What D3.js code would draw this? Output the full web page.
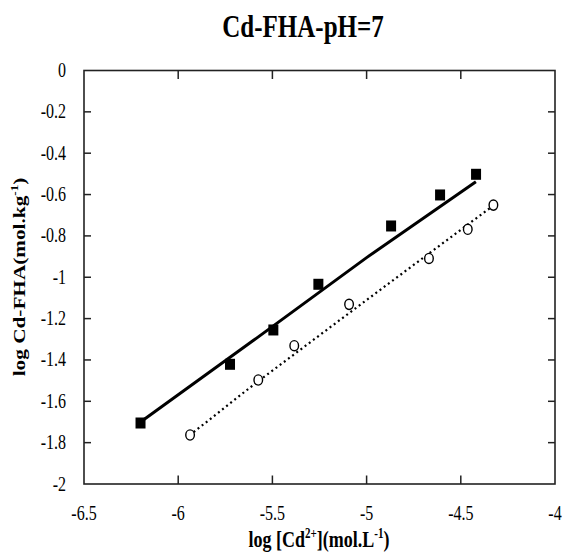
<!DOCTYPE html>
<html><head><meta charset="utf-8">
<script src="https://cdn.jsdelivr.net/npm/d3@7"></script>
<style>body{margin:0;background:#fff}svg{display:block}text{font-family:"Liberation Serif","Times New Roman",serif;fill:#000}</style>
</head><body>
<svg id="c" width="566" height="557"></svg>
<script>
const title = "Cd-FHA-pH=7";
const xTicks = [-6.5, -6, -5.5, -5, -4.5, -4];
const yTicks = [0, -0.2, -0.4, -0.6, -0.8, -1, -1.2, -1.4, -1.6, -1.8, -2];
// filled squares
const sqX = [-6.20, -5.725, -5.495, -5.256, -4.870, -4.610, -4.419];
const sqY = [-1.705, -1.421, -1.255, -1.034, -0.752, -0.602, -0.502];
// open circles
const ciX = [-5.937, -5.575, -5.384, -5.093, -4.669, -4.463, -4.327];
const ciY = [-1.763, -1.497, -1.331, -1.131, -0.909, -0.768, -0.651];
// fitted lines
const fit1X = [-6.2, -5.6, -5.0, -4.42];
const fit1Y = [-1.70, -1.305, -0.905, -0.538];
const fit2X = [-5.94, -5.6, -5.0, -4.33];
const fit2Y = [-1.765, -1.52, -1.11, -0.655];

const L = 84, R = 555, T = 70.5, B = 484;
const x = d3.scaleLinear().domain([-6.5, -4]).range([L, R]);
const y = d3.scaleLinear().domain([0, -2]).range([T, B]);
const svg = d3.select("#c");
const SY = 1.25;

// frame
svg.append("rect").attr("x", L).attr("y", T).attr("width", R - L).attr("height", B - T)
  .attr("fill", "none").attr("stroke", "#222").attr("stroke-width", 1.6);

// ticks (inward, mirrored)
const xInner = xTicks.filter(v => v > -6.5 && v < -4);
const yInner = yTicks.filter(v => v < 0 && v > -2);
const tk = svg.append("g").attr("stroke", "#222").attr("stroke-width", 1.5);
xInner.forEach(v => {
  tk.append("line").attr("x1", x(v)).attr("x2", x(v)).attr("y1", B).attr("y2", B - 8.5);
  tk.append("line").attr("x1", x(v)).attr("x2", x(v)).attr("y1", T).attr("y2", T + 8.5);
});
yInner.forEach(v => {
  tk.append("line").attr("x1", L).attr("x2", L + 7).attr("y1", y(v)).attr("y2", y(v));
  tk.append("line").attr("x1", R).attr("x2", R - 7).attr("y1", y(v)).attr("y2", y(v));
});

// tick labels
xTicks.forEach(v => {
  svg.append("text").attr("transform", `translate(${x(v)},${520}) scale(1,${SY})`)
    .attr("text-anchor", "middle").attr("font-size", 16).text(String(v));
});
yTicks.forEach(v => {
  svg.append("text").attr("transform", `translate(66,${y(v) + 6.5}) scale(1,${SY})`)
    .attr("text-anchor", "end").attr("font-size", 16).text(String(v));
});

// lines
const line = d3.line().x(d => x(d[0])).y(d => y(d[1]));
svg.append("path").datum(fit1X.map((v, i) => [v, fit1Y[i]])).attr("d", line)
  .attr("fill", "none").attr("stroke", "#000").attr("stroke-width", 3);
svg.append("path").datum(fit2X.map((v, i) => [v, fit2Y[i]])).attr("d", line)
  .attr("fill", "none").attr("stroke", "#000").attr("stroke-width", 2.2)
  .attr("stroke-dasharray", "2,3.2");

// markers
svg.append("g").selectAll("rect").data(sqX.map((v, i) => [v, sqY[i]])).join("rect")
  .attr("x", d => x(d[0]) - 5).attr("y", d => y(d[1]) - 5.5)
  .attr("width", 10).attr("height", 11).attr("fill", "#000");
svg.append("g").selectAll("ellipse").data(ciX.map((v, i) => [v, ciY[i]])).join("ellipse")
  .attr("cx", d => x(d[0])).attr("cy", d => y(d[1])).attr("rx", 4.3).attr("ry", 5.1)
  .attr("fill", "#fff").attr("stroke", "#000").attr("stroke-width", 1.4);

// title
svg.append("text").attr("transform", `translate(303,36.5) scale(1,1.25)`)
  .attr("text-anchor", "middle").attr("font-size", 25).attr("font-weight", "bold").text(title);

// x label
const xl = svg.append("text").attr("transform", `translate(319,547) scale(1,${SY})`)
  .attr("text-anchor", "middle").attr("font-size", 18).attr("font-weight", "bold");
xl.append("tspan").text("log [Cd");
xl.append("tspan").attr("font-size", 11).attr("dy", -7).text("2+");
xl.append("tspan").attr("dy", 7).text("](mol.L");
xl.append("tspan").attr("font-size", 11).attr("dy", -7).text("-1");
xl.append("tspan").attr("dy", 7).text(")");

// y label
const yl = svg.append("text").attr("transform", `translate(25,277) scale(1,${SY}) rotate(-90)`)
  .attr("text-anchor", "middle").attr("font-size", 17).attr("font-weight", "bold");
yl.append("tspan").text("log Cd-FHA(mol.kg");
yl.append("tspan").attr("font-size", 10.5).attr("dy", -7).text("-1");
yl.append("tspan").attr("dy", 7).text(")");
</script>
</body></html>
